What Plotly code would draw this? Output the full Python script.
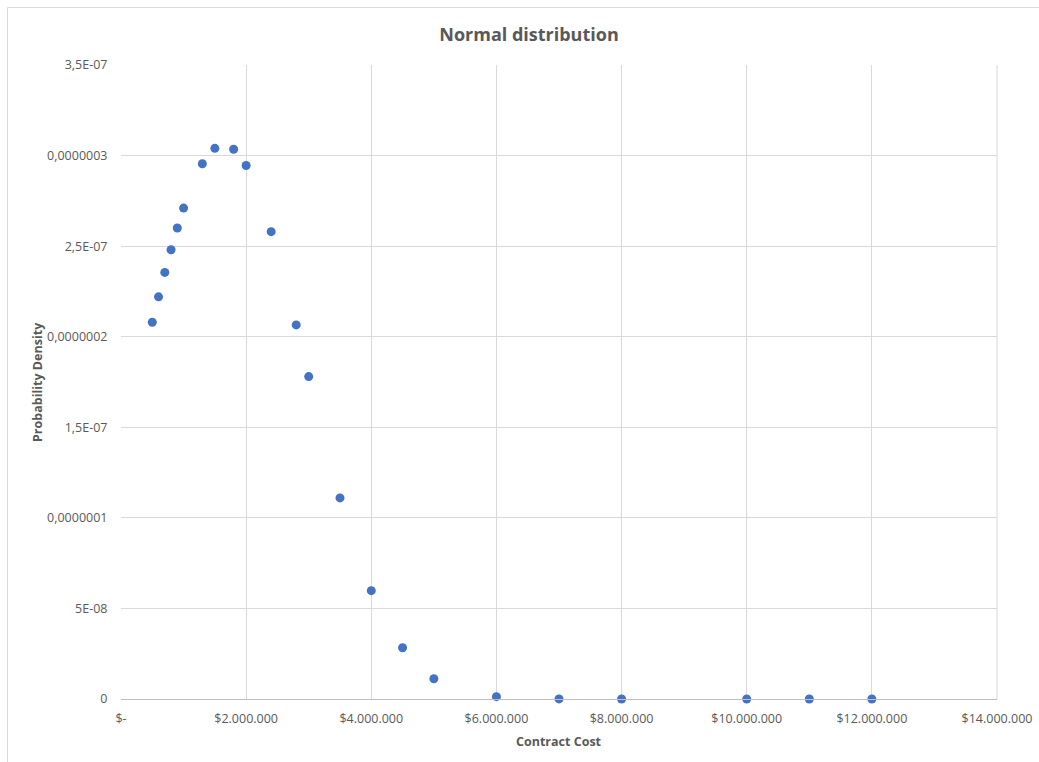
import plotly.graph_objects as go

# Contract cost values and their probability densities
contract_cost = [500000, 600000, 700000, 800000, 900000, 1000000, 1300000, 1500000,
                 1800000, 2000000, 2400000, 2800000, 3000000, 3500000, 4000000, 4500000,
                 5000000, 6000000, 7000000, 8000000, 10000000, 11000000, 12000000]
density = [2.08e-7, 2.22e-7, 2.355e-7, 2.48e-7, 2.60e-7, 2.71e-7, 2.955e-7, 3.04e-7,
           3.035e-7, 2.945e-7, 2.58e-7, 2.065e-7, 1.78e-7, 1.11e-7, 5.98e-8, 2.83e-8,
           1.12e-8, 1.3e-9, 5e-11, 0.0, 0.0, 0.0, 0.0]

# Axis ticks
x_tickvals = [0, 2000000, 4000000, 6000000, 8000000, 10000000, 12000000, 14000000]
x_ticktext = ["$-", "$2.000.000", "$4.000.000", "$6.000.000", "$8.000.000",
              "$10.000.000", "$12.000.000", "$14.000.000"]
y_tickvals = [0, 5e-8, 1e-7, 1.5e-7, 2e-7, 2.5e-7, 3e-7, 3.5e-7]
y_ticktext = ["0", "5E-08", "0,0000001", "1,5E-07", "0,0000002", "2,5E-07",
              "0,0000003", "3,5E-07"]

FONT = "Open Sans, Liberation Sans, sans-serif"
GRAY = "#595959"
GRID = "#d9d9d9"

fig = go.Figure()
fig.add_trace(go.Scatter(
    x=contract_cost, y=density, mode="markers",
    marker=dict(size=9, color="#4472C4"),
    cliponaxis=False, showlegend=False,
))

fig.update_layout(
    width=1039, height=762,
    margin=dict(l=121, r=42, t=65, b=63),
    paper_bgcolor="white", plot_bgcolor="white",
    font=dict(family=FONT, color=GRAY, size=12),
    title=dict(text="<b>Normal distribution</b>", x=529 / 1039, xref="container",
               xanchor="center", y=1 - 35 / 762, yanchor="middle",
               font=dict(size=18, color=GRAY, family=FONT)),
    xaxis=dict(range=[0, 14000000], tickvals=x_tickvals, ticktext=x_ticktext,
               showgrid=True, gridcolor=GRID, gridwidth=1, zeroline=False,
               showline=True, linecolor="#bfbfbf", linewidth=1,
               ticks="outside", ticklen=8, tickcolor="rgba(0,0,0,0)",
               tickfont=dict(size=12.5, color=GRAY), fixedrange=True,
               automargin=False),
    yaxis=dict(range=[0, 3.5e-7], tickvals=y_tickvals, ticktext=y_ticktext,
               showgrid=True, gridcolor=GRID, gridwidth=1, zeroline=False,
               showline=False, ticks="outside", ticklen=10,
               tickcolor="rgba(0,0,0,0)",
               tickfont=dict(size=12.5, color=GRAY), fixedrange=True,
               automargin=False),
    annotations=[
        dict(text="<b>Contract Cost</b>", xref="paper", yref="paper",
             x=0.5, y=-(741 - 699) / 634, xanchor="center", yanchor="middle",
             showarrow=False, font=dict(size=12.5, color=GRAY, family=FONT)),
        dict(text="<b>Probability Density</b>", xref="paper", yref="paper",
             x=-(121 - 37) / 876, y=(699 - 382) / 634, xanchor="center",
             yanchor="middle", textangle=-90, showarrow=False,
             font=dict(size=12.5, color=GRAY, family=FONT)),
    ],
    shapes=[
        # right edge of plot area
        dict(type="line", xref="paper", yref="paper", x0=1, x1=1, y0=0, y1=1,
             line=dict(color=GRID, width=1)),
        # chart border
        dict(type="rect", xref="paper", yref="paper",
             x0=-(121 - 7.5) / 876, x1=1 + (1060 - 997) / 876,
             y0=-(790 - 699) / 634, y1=1 + (65 - 7.5) / 634,
             line=dict(color="#d9d9d9", width=1), layer="below"),
    ],
)

fig.write_html("out.html")
